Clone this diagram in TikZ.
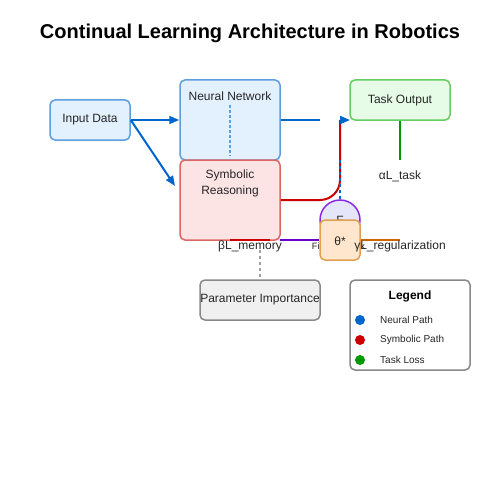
\documentclass[tikz,border=0pt]{standalone}
\usepackage{fontspec}
\setmainfont{Liberation Sans}
\usetikzlibrary{arrows.meta}
\definecolor{nnfill}{HTML}{E3F0FD}
\definecolor{nnline}{HTML}{5C9EE0}
\definecolor{symfill}{HTML}{FDE4E4}
\definecolor{symline}{HTML}{E06666}
\definecolor{taskfill}{HTML}{E6FCE6}
\definecolor{taskline}{HTML}{66CC66}
\definecolor{cfill}{HTML}{E6E6FA}
\definecolor{cline}{HTML}{8A2BE2}
\definecolor{thfill}{HTML}{FFE6CC}
\definecolor{thline}{HTML}{E0A050}
\definecolor{pfill}{HTML}{F0F0F0}
\definecolor{pline}{HTML}{888888}
\definecolor{cblue}{HTML}{0066CC}
\definecolor{cred}{HTML}{CC0000}
\definecolor{cgreen}{HTML}{009900}
\definecolor{cpurple}{HTML}{6600CC}
\definecolor{corange}{HTML}{CC6600}
\tikzset{
  boxst/.style={draw, rounded corners=5pt, line width=1.5pt, inner sep=0pt},
  lbl/.style={font=\fontsize{12}{14}\selectfont, inner sep=0pt, text=black!85},
  small/.style={font=\fontsize{10}{12}\selectfont, inner sep=0pt, text=black!85},
  conn/.style={line width=2pt},
  tip/.style={-{Triangle[length=10pt,width=8pt]}},
}
\begin{document}
\begin{tikzpicture}[x=1pt,y=-1pt]
\useasboundingbox[fill=white] (0,0) rectangle (500,500);
\node[font=\bfseries\fontsize{20}{24}\selectfont, inner sep=0pt] (title) at (250,33) {Continual Learning Architecture in Robotics};

\node[boxst, fill=nnfill, draw=nnline, minimum width=80pt, minimum height=40pt] (input) at (90,120) {};
\node[lbl] (inputt) at (90,120) {Input Data};
\node[boxst, fill=nnfill, draw=nnline, minimum width=100pt, minimum height=80pt] (nn) at (230,120) {};
\node[lbl] (nnt) at (230,96) {Neural Network};
\coordinate (nntop) at (230,105);
\coordinate (nnbot) at (230,156);
\draw[nnline, line width=2pt, dash pattern=on 3pt off 2pt] (nntop) -- (nnbot);
\node[boxst, fill=symfill, draw=symline, minimum width=100pt, minimum height=80pt] (sym) at (230,200) {};
\node[lbl, align=center] (symt) at (230,183) {Symbolic\\[2pt]Reasoning};
\node[boxst, fill=taskfill, draw=taskline, minimum width=100pt, minimum height=40pt] (task) at (400,100) {};
\node[lbl] (taskt) at (400,100) {Task Output};

% input arrows
\draw[conn, cblue, tip] (input.east) -- (nn.west);
\coordinate (diagend) at (175,186);
\draw[conn, cblue, tip] (input.east) -- (diagend);

% neural to task
\coordinate (nnout) at (320,120);
\draw[conn, cblue] (nn.east) -- (nnout);
\coordinate (redtop) at (340,120);
\coordinate (redcorner) at (340,200);
\draw[conn, cred, rounded corners=20pt] (sym.east) -- (redcorner) -- (redtop);
\coordinate (arrstart) at (340,120);
\coordinate (taskin) at (350,120);
\draw[conn, cblue, tip] (arrstart) -- (taskin);

% fisher circle
\node[circle, draw=cline, fill=cfill, line width=1.5pt, minimum size=40pt, inner sep=0pt] (fish) at (340,220) {};

% blue dotted
\coordinate (bdtop) at (340,160);
\draw[conn, cblue, dash pattern=on 3pt off 3pt] (bdtop) -- (fish.north);

% green task loss
\coordinate (gend) at (400,160);
\draw[conn, cgreen] (task.south) -- (gend);
\node[lbl] (alpha) at (400,176) {αL\_task};

\node[lbl] (ft) at (340,220) {F};
\node[lbl] (fisher) at (338.5,246) {\fontsize{9.2}{11}\selectfont Fisher Matrix};
\node[boxst, fill=thfill, draw=thline, minimum width=40pt, minimum height=40pt] (theta) at (340,240) {};
\node[lbl] (tht) at (340,241) {θ*};

% bottom lines
\coordinate (rl1) at (230,240);
\coordinate (rl2) at (270,240);
\draw[conn, cred] (rl1) -- (rl2);
\coordinate (pl1) at (280,240);
\draw[conn, cpurple] (pl1) -- (theta.west);
\coordinate (ol2) at (400,240);
\draw[conn, corange] (theta.east) -- (ol2);
\node[lbl] (beta) at (250,246) {βL\_memory};
\node[lbl] (gamma) at (400,246) {γL\_regularization};

% parameter importance
\node[boxst, fill=pfill, draw=pline, minimum width=120pt, minimum height=40pt] (param) at (260,300) {};
\node[lbl] (paramt) at (260,300) {Parameter Importance};
\coordinate (gtop) at (260,250);
\draw[conn, pline!80, dash pattern=on 3pt off 3pt] (gtop) -- (param.north);

% legend
\node[boxst, fill=white, draw=pline, minimum width=120pt, minimum height=90pt] (legend) at (410,325) {};
\node[lbl, font=\bfseries\fontsize{12}{14}\selectfont, text=black] (legt) at (410,296) {Legend};
\node[circle, fill=cblue, minimum size=10pt, inner sep=0pt] (d1) at (360,320) {};
\node[circle, fill=cred, minimum size=10pt, inner sep=0pt] (d2) at (360,340) {};
\node[circle, fill=cgreen, minimum size=10pt, inner sep=0pt] (d3) at (360,360) {};
\node[small, anchor=west] (l1) at (380,320) {Neural Path};
\node[small, anchor=west] (l2) at (380,340) {Symbolic Path};
\node[small, anchor=west] (l3) at (380,360) {Task Loss};
\end{tikzpicture}
\end{document}
